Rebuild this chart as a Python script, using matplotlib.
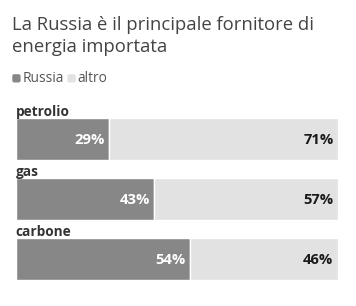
import matplotlib
matplotlib.use("Agg")
import matplotlib.pyplot as plt
from matplotlib.patches import FancyBboxPatch

categories = ["petrolio", "gas", "carbone"]
russia = [29, 43, 54]
altro = [71, 57, 46]
series_names = ["Russia", "altro"]
title = "La Russia è il principale fornitore di\nenergia importata"

W, H = 356, 306
fig = plt.figure(figsize=(W / 100, H / 100), dpi=100)
fig.patch.set_facecolor("white")
plt.rcParams['font.family'] = ['Open Sans', 'DejaVu Sans']

dark = "#878787"
light = "#e2e2e2"

left_px, right_px = 15.7, 338.0
top_px, bot_px = 100.0, 290.0
ax = fig.add_axes([left_px / W, 1 - bot_px / H, (right_px - left_px) / W, (bot_px - top_px) / H])
ax.set_xlim(0, 100)
row = 60.0
y0 = 139.0
ax.set_ylim(2 + (bot_px - (y0 + 2 * row)) / row, -(y0 - top_px) / row)
ax.axis("off")

ypos = list(range(len(categories)))
h = 42 / row
ax.barh(ypos, russia, height=h, color=dark, edgecolor="white", linewidth=1.0)
ax.barh(ypos, altro, left=russia, height=h, color=light, edgecolor="white", linewidth=1.0)

for i, (c, r, a) in enumerate(zip(categories, russia, altro)):
    ax.text(0, i - 0.455, c, ha="left", va="center", fontsize=9.8, fontweight="bold", color="#333333")
    ax.text(r - 1.3, i + 0.02, f"{r}%", ha="right", va="center", fontsize=10.6, fontweight="bold", color="white")
    ax.text(r + a - 1.4, i + 0.02, f"{a}%", ha="right", va="center", fontsize=10.6, fontweight="bold", color="#1a1a1a")

fig.text(12 / W, 1 - 16 / H, title, ha="left", va="top", fontsize=13.3, color="#444444", linespacing=1.25)

def legend_item(x_px, label, color):
    s = 8.3
    patch = FancyBboxPatch(((x_px) / W, 1 - 82.5 / H), s / W, s / H, boxstyle="round,pad=0,rounding_size=0.006",
                           transform=fig.transFigure, facecolor=color, edgecolor="none")
    fig.patches.append(patch)
    fig.text((x_px + s + 2) / W, 1 - 78.3 / H, label, ha="left", va="center", fontsize=9.9, color="#555555")

legend_item(12.3, series_names[0], dark)
legend_item(67.5, series_names[1], light)

fig.savefig("out.png", dpi=100, facecolor="white")
